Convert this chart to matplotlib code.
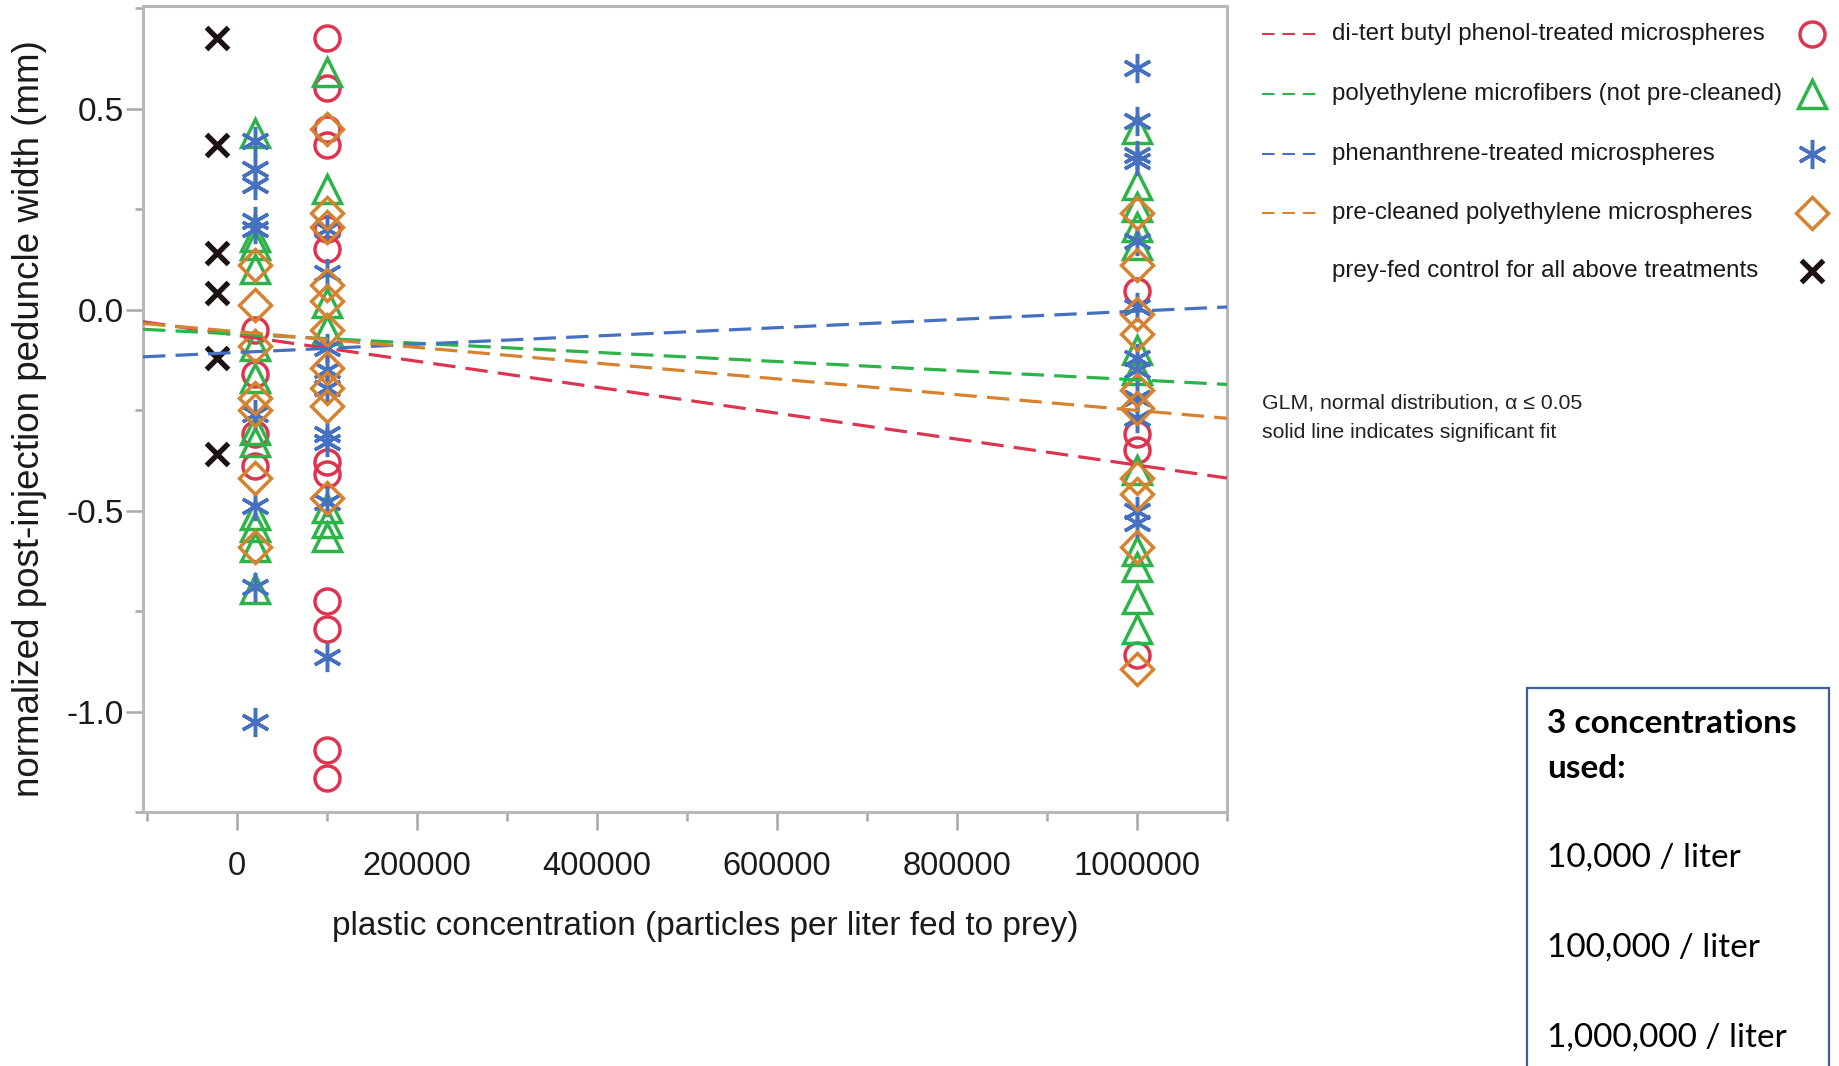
import numpy as np
import matplotlib
matplotlib.use('Agg')
import matplotlib.pyplot as plt
from matplotlib.lines import Line2D
from matplotlib.patches import Rectangle
from matplotlib.ticker import MultipleLocator, FormatStrFormatter

plt.rcParams['font.family'] = ['Liberation Sans', 'DejaVu Sans']
plt.rcParams['axes.unicode_minus'] = False

# x positions of the dose groups as drawn (control is shifted left of zero)
control_x = -22000
group_x = [20000, 100000, 1000000]

# normalized post-injection peduncle width (mm), one list per group
red_y = [[-0.05, -0.16, -0.31, -0.39],
         [0.675, 0.55, 0.45, 0.41, 0.20, 0.15, -0.38, -0.41, -0.725, -0.795, -1.095, -1.165],
         [0.045, -0.31, -0.35, -0.86]]
green_y = [[0.44, 0.18, 0.16, 0.10, -0.09, -0.17, -0.30, -0.33, -0.51, -0.54, -0.59, -0.695],
           [0.59, 0.30, 0.015, -0.05, -0.495, -0.53, -0.565],
           [0.45, 0.31, 0.255, 0.205, 0.16, -0.10, -0.15, -0.40, -0.60, -0.64, -0.72, -0.795]]
blue_y = [[0.42, 0.35, 0.31, 0.22, 0.20, -0.26, -0.49, -0.69, -1.025],
          [0.20, 0.09, -0.095, -0.15, -0.195, -0.31, -0.33, -0.48, -0.865],
          [0.60, 0.47, 0.385, 0.37, 0.17, 0.005, -0.12, -0.15, -0.22, -0.27, -0.50, -0.53]]
orange_y = [[0.11, 0.01, -0.09, -0.22, -0.25, -0.42, -0.59],
            [0.45, 0.24, 0.205, 0.06, 0.02, -0.05, -0.145, -0.195, -0.24, -0.47],
            [0.24, 0.11, -0.01, -0.06, -0.20, -0.245, -0.42, -0.46, -0.59, -0.895]]
control_y = [0.675, 0.41, 0.14, 0.04, -0.12, -0.36]

# GLM fits (intercept, slope per particle)
fit_intercept = [-0.064, -0.061, -0.107, -0.055]
fit_slope = [-3.23e-7, -1.14e-7, 1.03e-7, -1.96e-7]

labels = ['di-tert butyl phenol-treated microspheres',
          'polyethylene microfibers (not pre-cleaned)',
          'phenanthrene-treated microspheres',
          'pre-cleaned polyethylene microspheres']
control_label = 'prey-fed control for all above treatments'
colors = ['#DC3550', '#2EB34A', '#4670C0', '#D6822F']
markers = ['o', '^', (6, 2, 0), 'D']
msizes = [18, 20, 21, 16]
series = [red_y, green_y, blue_y, orange_y]

W, H = 1839, 1066
fig = plt.figure(figsize=(W / 100, H / 100), dpi=100)
ax = fig.add_axes([143 / W, 1 - 812 / H, (1227 - 143) / W, (812 - 6) / H])

xlim = (-104000, 1100000)
ax.set_xlim(xlim)
ax.set_ylim(-1.25, 0.755)

# points
for ys, c, m, ms in zip(series, colors, markers, msizes):
    for gx, vals in zip(group_x, ys):
        ax.plot([gx] * len(vals), vals, linestyle='none', marker=m, ms=ms,
                mfc='none', mec=c, mew=2.5, zorder=3)
ax.plot([control_x] * len(control_y), control_y, linestyle='none', marker='x',
        ms=16, mec='#1c1010', mew=3.8, zorder=3)

# dashed fit lines
xs = np.array(xlim)
for b0, b1, c in zip(fit_intercept, fit_slope, colors):
    ax.plot(xs, b0 + b1 * xs, color=c, lw=2.3, dashes=(7, 3.2), zorder=4)

# axes styling
for sp in ax.spines.values():
    sp.set_color('#b8b8b8')
    sp.set_linewidth(2.2)
ax.xaxis.set_major_locator(MultipleLocator(200000))
ax.xaxis.set_minor_locator(MultipleLocator(100000))
ax.yaxis.set_major_locator(MultipleLocator(0.5))
ax.yaxis.set_minor_locator(MultipleLocator(0.25))
ax.xaxis.set_major_formatter(FormatStrFormatter('%d'))
ax.yaxis.set_major_formatter(FormatStrFormatter('%.1f'))
ax.tick_params(which='both', direction='out', color='#a8a8a8', width=1.8, labelcolor='#1a1a1a')
ax.tick_params(axis='x', which='major', length=13, pad=15, labelsize=23.5)
ax.tick_params(axis='x', which='minor', length=6.5)
ax.tick_params(axis='y', which='major', length=12, pad=2, labelsize=24)
ax.tick_params(axis='y', which='minor', length=6)

ax.set_xlabel('plastic concentration (particles per liter fed to prey)', fontsize=24, color='#1a1a1a')
ax.set_ylabel('normalized post-injection peduncle width (mm)', fontsize=26.5, color='#1a1a1a')
ax.xaxis.set_label_coords(0.519, -0.123)
ax.yaxis.set_label_coords(-0.089, 0.488)

# custom legend: dashed line, label, marker on the far right
row_y = [34, 94, 154, 213, 271]
for i in range(4):
    fy = 1 - row_y[i] / H
    fig.add_artist(Line2D([1262 / W, 1323 / W], [fy, fy], color=colors[i], lw=1.5,
                          dashes=(6, 3.8), transform=fig.transFigure))
    fig.text(1332 / W, fy, labels[i], fontsize=17.4, va='center', ha='left', color='#1a1a1a')
    fig.add_artist(Line2D([1812 / W], [fy], linestyle='none', marker=markers[i], ms=msizes[i],
                          mfc='none', mec=colors[i], mew=2.5, transform=fig.transFigure))
fy = 1 - row_y[4] / H
fig.text(1332 / W, fy, control_label, fontsize=17.4, va='center', ha='left', color='#1a1a1a')
fig.add_artist(Line2D([1812 / W], [fy], linestyle='none', marker='x', ms=16,
                      mec='#1c1010', mew=3.8, transform=fig.transFigure))

fig.text(1262 / W, 1 - 403 / H, 'GLM, normal distribution, α ≤ 0.05', fontsize=15.3,
         va='center', ha='left', color='#222222')
fig.text(1262 / W, 1 - 432 / H, 'solid line indicates significant fit', fontsize=15.3,
         va='center', ha='left', color='#222222')

# note box, bottom right (runs off the bottom edge)
fig.add_artist(Rectangle((1527 / W, -0.05), (1829 - 1527) / W, 1 - 688 / H + 0.05,
                         transform=fig.transFigure, fill=False, edgecolor='#3F5F9A', lw=1.6))
box_lines = ['3 concentrations', 'used:', '10,000 / liter', '100,000 / liter', '1,000,000 / liter']
box_base = [733, 778, 867, 957, 1047]
for k, (txt, by) in enumerate(zip(box_lines, box_base)):
    fig.text(1547 / W, 1 - by / H, txt, fontsize=24, family=['Lato', 'DejaVu Sans'],
             fontweight='bold' if k < 2 else 'normal', va='baseline', ha='left', color='#000000')

plt.savefig('out.png', dpi=100)
